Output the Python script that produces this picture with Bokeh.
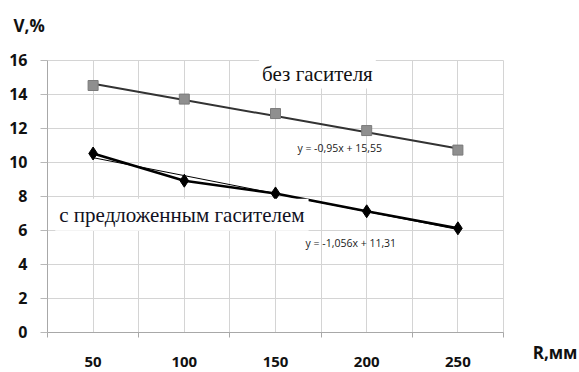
from bokeh.plotting import figure
from bokeh.models import Range1d, FixedTicker, Label, LinearAxis, Grid
from bokeh.embed import file_html
from bokeh.resources import INLINE

# Radius R (mm) and vibration level V (%)
radius = [50, 100, 150, 200, 250]
v_without = [14.5, 13.7, 12.85, 11.85, 10.7]   # без гасителя
v_with = [10.5, 8.9, 8.15, 7.1, 6.1]           # с предложенным гасителем

# Linear trends over the point index (1..5)
trend_without = (-0.95, 15.55)
trend_with = (-1.056, 11.31)
eq_without = "y = -0,95x + 15,55"
eq_with = "y = -1,056x + 11,31"

y_ticks = [0, 2, 4, 6, 8, 10, 12, 14, 16]
x_bounds = [25, 75, 125, 175, 225, 275]

idx = list(range(1, len(radius) + 1))
fit_without = [trend_without[0] * i + trend_without[1] for i in idx]
fit_with = [trend_with[0] * i + trend_with[1] for i in idx]

# The frame covers the whole canvas; axes are pinned inside it so that the
# axis titles can sit freely around the plotting area.
W, H = 579, 372
left_px, right_px, top_px, bottom_px = 47, 503, 59.5, 331.5
kx = (right_px - left_px) / (275 - 25)
ky = (bottom_px - top_px) / (16 - 0)
x_range = Range1d(25 - left_px / kx, 275 + (W - right_px) / kx)
y_range = Range1d(0 - (H - bottom_px) / ky, 16 + top_px / ky)

p = figure(width=W, height=H, output_backend="svg", toolbar_location=None,
           x_range=x_range, y_range=y_range,
           x_axis_type=None, y_axis_type=None,
           min_border=0)
p.outline_line_color = None
p.background_fill_color = "white"
p.border_fill_color = "white"

xticker = FixedTicker(ticks=radius, minor_ticks=x_bounds)
yticker = FixedTicker(ticks=y_ticks)

# grid lines limited to the data area
xgrid = Grid(dimension=0, ticker=xticker, bounds=(25, 275), cross_bounds=(0, 16),
             grid_line_color="#d4d4d4", minor_grid_line_color="#d4d4d4")
ygrid = Grid(dimension=1, ticker=yticker, bounds=(0, 16), cross_bounds=(25, 275),
             grid_line_color="#d4d4d4")
p.add_layout(xgrid)
p.add_layout(ygrid)

label_font = "Open Sans"
label_color = "#111111"

xa = LinearAxis(ticker=xticker, fixed_location=0, bounds=(25, 275))
xa.major_tick_out = 0
xa.major_tick_in = 0
xa.minor_tick_out = 5
xa.minor_tick_in = 0
xa.minor_tick_line_color = "#a8a8a8"
xa.axis_line_color = "#a8a8a8"
xa.major_label_standoff = 20
xa.major_label_text_font = label_font
xa.major_label_text_font_size = "15px"
xa.major_label_text_font_style = "bold"
xa.major_label_text_color = label_color
p.add_layout(xa, "below")

ya = LinearAxis(ticker=yticker, fixed_location=25, bounds=(0, 16))
ya.major_tick_out = 7
ya.major_tick_in = 0
ya.minor_tick_out = 0
ya.minor_tick_in = 0
ya.major_tick_line_color = "#b8b8b8"
ya.axis_line_color = "#a8a8a8"
ya.major_label_standoff = 13
ya.major_label_text_font = label_font
ya.major_label_text_font_size = "16px"
ya.major_label_text_font_style = "bold"
ya.major_label_text_color = label_color
p.add_layout(ya, "left")

# series without damper: markers with the linear trend
p.line(radius, fit_without, line_color="#333333", line_width=2)
p.scatter(radius, v_without, marker="square", size=10,
          fill_color="#8f8f8f", line_color="#7a7a7a")

# series with the proposed damper: broken line, trend and markers
p.line(radius, v_with, line_color="black", line_width=2.5)
p.line(radius, fit_with, line_color="black", line_width=1)
p.scatter(radius, v_with, marker="diamond", size=13,
          fill_color="black", line_color="black")

# captions
p.add_layout(Label(x=173, y=15.2, text="без гасителя",
                   text_font="Liberation Serif", text_font_size="21px",
                   text_align="center", text_baseline="middle",
                   text_color="#111111", background_fill_color="white",
                   padding=3))
p.add_layout(Label(x=98.7, y=6.9, text="с предложенным гасителем",
                   text_font="Liberation Serif", text_font_size="21px",
                   text_align="center", text_baseline="middle",
                   text_color="#111122", background_fill_color="white",
                   padding=4))
p.add_layout(Label(x=162, y=10.8, text=eq_without,
                   text_font="Open Sans", text_font_size="10.5px",
                   text_align="left", text_baseline="middle",
                   text_color="#1a1a1a"))
p.add_layout(Label(x=166.5, y=5.25, text=eq_with,
                   text_font="Open Sans", text_font_size="10.5px",
                   text_align="left", text_baseline="middle",
                   text_color="#1a1a1a"))

# axis titles
p.add_layout(Label(x=6.4, y=18.05, text="V,%",
                   text_font=label_font, text_font_size="17px",
                   text_font_style="bold", text_align="left",
                   text_baseline="middle", text_color=label_color))
p.add_layout(Label(x=291, y=-1.2, text="R,мм",
                   text_font=label_font, text_font_size="17px",
                   text_font_style="bold", text_align="left",
                   text_baseline="middle", text_color=label_color))

open("out.html", "w").write(file_html(p, INLINE))
